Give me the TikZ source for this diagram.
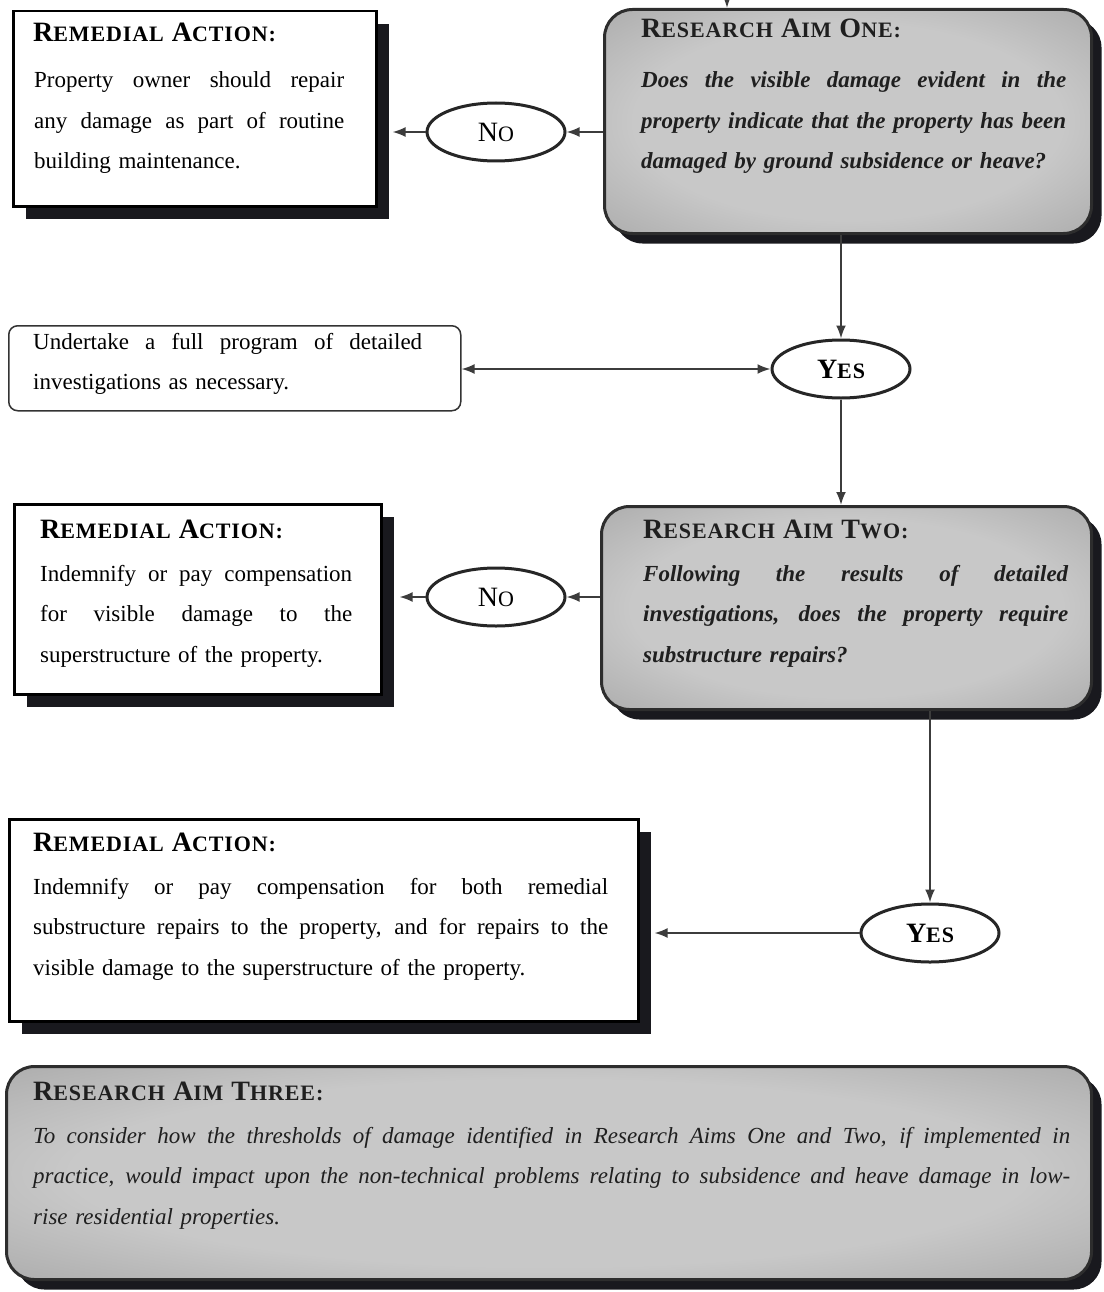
\documentclass[tikz,border=0pt]{standalone}
\usepackage{fontspec}
\setmainfont{Liberation Serif}
\usetikzlibrary{arrows.meta,shapes.geometric,shadows}
\definecolor{aimin}{RGB}{200,200,200}
\definecolor{aimout}{RGB}{145,145,145}
\definecolor{aimborder}{RGB}{45,45,45}
\definecolor{linegray}{RGB}{60,60,60}
\definecolor{shadowc}{RGB}{25,25,30}
\pgfdeclareradialshading{aimshade}{\pgfpoint{0bp}{0bp}}{color(0bp)=(aimin); color(22bp)=(aimin); color(50bp)=(aimout)}
\newcommand\hsc[2]{{\fontsize{28}{28}\selectfont\addfontfeature{LetterSpace=3}#1}{\fontsize{22}{22}\selectfont\addfontfeature{LetterSpace=4}#2}}
\newcommand\hsp{\hspace{8pt}}
\newcommand\jl[2]{\leavevmode\hbox to #1{\spaceskip=0.25em plus 1fil minus 0.08em\relax #2}}
\begin{document}
\begin{tikzpicture}[x=1pt,y=-1pt,
  conn/.style={draw=linegray, line width=2pt, -{Latex[length=13pt,width=10pt]}},
  conn2/.style={draw=linegray, line width=2pt, {Latex[length=13pt,width=10pt]}-{Latex[length=13pt,width=10pt]}},
  rabox/.style={draw=black, line width=2.5pt, fill=white, anchor=north west, inner sep=0pt,
     drop shadow={shadow xshift=13pt, shadow yshift=-13pt, fill=shadowc, opacity=1}},
  aimbox/.style={draw=aimborder, line width=3pt, rounded corners=28pt, shade, shading=aimshade,
     anchor=north west, inner sep=0pt,
     drop shadow={shadow xshift=10pt, shadow yshift=-10pt, fill=shadowc, opacity=1}},
  undbox/.style={draw=black!80, line width=1.5pt, rounded corners=9pt, fill=white, anchor=north west, inner sep=0pt},
  decision/.style={ellipse, draw=black!85, line width=3pt, fill=white, inner sep=0pt,
     minimum width=138pt, minimum height=58pt},
  hd/.style={anchor=base west, inner sep=0pt, font=\bfseries},
  body/.style={anchor=base west, inner sep=0pt, font=\fontsize{23}{40.5}\selectfont},
  aimbody/.style={body, font=\fontsize{23}{40.5}\selectfont\bfseries\itshape, text=black!88},
]
\fill[white] (0,0) rectangle (1103,1292);
\useasboundingbox (0,0) rectangle (1103,1292);

% boxes
\node[rabox, minimum width=363pt, minimum height=195pt] (ra1) at (12,10) {};
\node[aimbox, minimum width=487pt, minimum height=224pt] (aim1) at (603,8) {};
\node[undbox, minimum width=452pt, minimum height=85pt] (und) at (8,325) {};
\node[rabox, minimum width=367pt, minimum height=190pt] (ra2) at (13,503) {};
\node[aimbox, minimum width=490pt, minimum height=203pt] (aim2) at (600,505) {};
\node[rabox, minimum width=629pt, minimum height=202pt] (ra3) at (8,818) {};
\node[aimbox, minimum width=1085pt, minimum height=213pt] (aim3) at (5,1065) {};

% decisions
\node[decision] (no1) at (496,132) {\hsc{N}{O}};
\node[decision] (yes1) at (841,369) {\bfseries\hsc{Y}{ES}};
\node[decision] (no2) at (496,597) {\hsc{N}{O}};
\node[decision] (yes2) at (930,933) {\bfseries\hsc{Y}{ES}};

% texts
\node[hd] (ra1h) at (33,42) {\hsc{R}{EMEDIAL}\hsp\hsc{A}{CTION:}};
\node[body, text width=310pt] (ra1t) at (34,88) {\jl{310pt}{Property owner should repair}\\\jl{310pt}{any damage as part of routine}\\building maintenance.};

\node[hd, text=black!88] (aim1h) at (641,38) {\hsc{R}{ESEARCH}\hsp\hsc{A}{IM}\hsp\hsc{O}{NE:}};
\node[aimbody, text width=425pt] (aim1t) at (641,88) {\jl{425pt}{Does the visible damage evident in the}\\\jl{425pt}{property indicate that the property has been}\\damaged by ground subsidence or heave?};

\node[body, text width=389pt] (undt) at (33,349) {\jl{389pt}{Undertake a full program of detailed}\\investigations as necessary.};

\node[hd] (ra2h) at (40,538) {\hsc{R}{EMEDIAL}\hsp\hsc{A}{CTION:}};
\node[body, text width=312pt] (ra2t) at (40,581) {\jl{312pt}{Indemnify or pay compensation}\\\jl{312pt}{for visible damage to the}\\superstructure of the property.};

\node[hd, text=black!88] (aim2h) at (643,538) {\hsc{R}{ESEARCH}\hsp\hsc{A}{IM}\hsp\hsc{T}{WO:}};
\node[aimbody, text width=425pt] (aim2t) at (643,581) {\jl{425pt}{Following the results of detailed}\\\jl{425pt}{investigations, does the property require}\\substructure repairs?};

\node[hd] (ra3h) at (33,851) {\hsc{R}{EMEDIAL}\hsp\hsc{A}{CTION:}};
\node[body, text width=575pt] (ra3t) at (33,894) {\jl{575pt}{Indemnify or pay compensation for both remedial}\\\jl{575pt}{substructure repairs to the property, and for repairs to the}\\visible damage to the superstructure of the property.};

\node[hd, text=black!88] (aim3h) at (33,1100) {\hsc{R}{ESEARCH}\hsp\hsc{A}{IM}\hsp\hsc{T}{HREE:}};
\node[body, text width=1037pt, font=\fontsize{23}{40.5}\selectfont\itshape, text=black!88] (aim3t) at (33,1143) {\jl{1037pt}{To consider how the thresholds of damage identified in Research Aims One and Two, if implemented in}\\\jl{1037pt}{practice, would impact upon the non-technical problems relating to subsidence and heave damage in low-}\\rise residential properties.};

% connectors
\coordinate (top) at (727,0);
\draw[conn] (top) -- (top |- aim1.north);
\draw[conn] (no1 -| aim1.west) -- (no1.east);
\draw[conn, shorten >=15pt] (no1.west) -- (no1 -| ra1.east);
\draw[conn] (yes1 |- aim1.south) -- (yes1.north);
\draw[conn2] (und.east |- yes1) -- (yes1.west);
\draw[conn] (yes1.south) -- (yes1.south |- aim2.north);
\draw[conn] (no2 -| aim2.west) -- (no2.east);
\draw[conn, shorten >=17pt] (no2.west) -- (no2 -| ra2.east);
\draw[conn] (yes2 |- aim2.south) -- (yes2.north);
\draw[conn, shorten >=15pt] (yes2.west) -- (yes2 -| ra3.east);
\end{tikzpicture}
\end{document}
